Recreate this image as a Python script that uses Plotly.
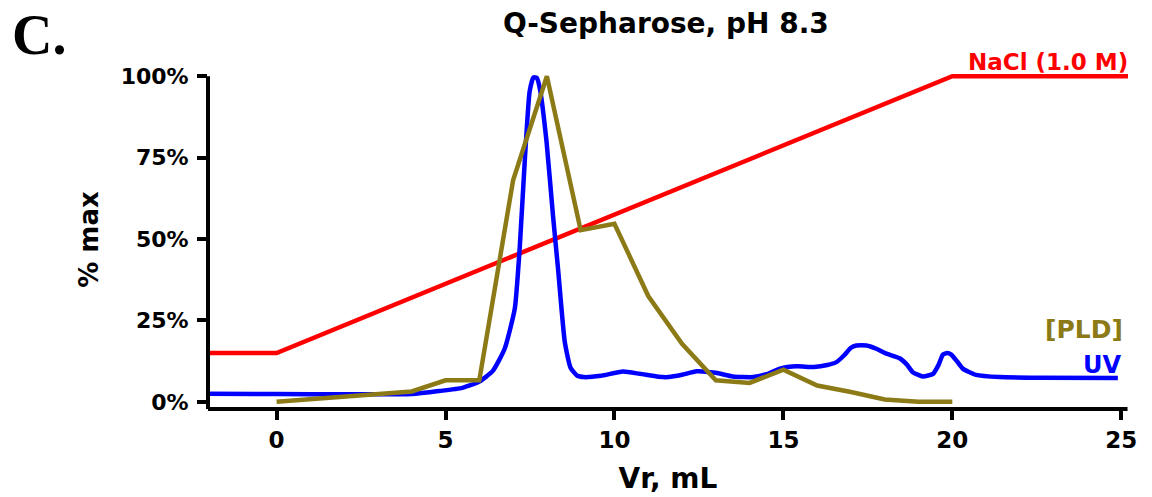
import plotly.graph_objects as go

# NaCl gradient (% of 1.0 M)
nacl_x = [-2.03, 0, 20, 25.2]
nacl_y = [15, 15, 100, 100]

# [PLD] activity (% max)
pld_x = [0, 4, 5, 6, 7, 8, 9, 10, 11, 12, 13, 14, 15, 16, 17, 18, 19, 20]
pld_y = [0, 3.2, 6.6, 6.6, 68, 100, 52.7, 54.7, 32.5, 17.8, 6.6, 5.8, 9.9, 5.0, 3.0, 0.7, 0, 0]

# UV absorbance (% max)
uv_x = [-2.03, 0, 2, 4, 4.8, 5.5, 6.0, 6.4, 6.75, 7.05, 7.2, 7.35, 7.49, 7.6, 7.7, 7.79,
        7.99, 8.18, 8.33, 8.53, 8.7, 8.9, 9.1, 9.6, 10.25, 10.75, 11.3, 11.6, 12.0,
        12.43, 13.0, 13.5, 14.1, 14.5, 14.9, 15.4, 15.9, 16.3, 16.57, 16.8, 17.0,
        17.16, 17.46, 17.75, 18.05, 18.44, 18.65, 18.83, 19.13, 19.43, 19.6, 19.72,
        19.85, 19.97, 20.15, 20.31, 20.7, 21.4, 22.58, 24.9]
uv_y = [2.5, 2.4, 2.3, 2.4, 3.3, 4.3, 6.2, 9.5, 16.3, 28.6, 48, 74.8, 95.3, 99.6, 99.5, 96.3,
        79.9, 57.3, 40.9, 18.4, 10.5, 8.0, 7.6, 8.0, 9.3, 8.6, 7.7, 7.6, 8.3,
        9.4, 8.9, 7.8, 7.6, 8.5, 10.2, 10.9, 10.7, 11.3, 12.2, 14.3, 16.6,
        17.3, 17.3, 16.3, 14.8, 13.4, 11.5, 9.1, 7.8, 8.6, 11.5, 14.5,
        15.0, 14.5, 12.3, 10.2, 8.3, 7.6, 7.4, 7.3]

x_ticks = [0, 5, 10, 15, 20, 25]
y_ticks = [0, 25, 50, 75, 100]
y_tick_text = ["0%", "25%", "50%", "75%", "100%"]

RED = "#FF0000"
BLUE = "#0000FF"
OLIVE = "#8B7A16"
FONT = "DejaVu Sans, Verdana, sans-serif"

fig = go.Figure()
fig.add_trace(go.Scatter(x=nacl_x, y=nacl_y, mode="lines", line=dict(color=RED, width=4.5), name="NaCl"))
fig.add_trace(go.Scatter(x=uv_x, y=uv_y, mode="lines", line=dict(color=BLUE, width=4.5, shape="spline", smoothing=0.5), name="UV"))
fig.add_trace(go.Scatter(x=pld_x, y=pld_y, mode="lines", line=dict(color=OLIVE, width=4.5), name="[PLD]"))

fig.update_layout(
    width=1152, height=497,
    margin=dict(l=208, r=24, t=70, b=88),
    paper_bgcolor="white", plot_bgcolor="white",
    showlegend=False,
    font=dict(family=FONT, color="black"),
    title=dict(text="<b>Q-Sepharose, pH 8.3</b>", x=0.578, xanchor="center", y=0.954, yanchor="middle",
               font=dict(size=28, family=FONT, color="black")),
)
fig.update_xaxes(range=[-2.03, 25.2], tickmode="array", tickvals=x_ticks,
                 ticktext=[f"<b>{v}</b>" for v in x_ticks],
                 ticks="outside", ticklen=10, tickwidth=4, tickcolor="black",
                 tickfont=dict(size=23, family=FONT, color="black"),
                 showgrid=False, zeroline=False, showline=False, automargin=False,
                 title=dict(text="<b>Vr, mL</b>", font=dict(size=28, family=FONT), standoff=16))
fig.update_yaxes(range=[-2.2, 101.9], tickmode="array", tickvals=y_ticks,
                 ticktext=[f"<b>{t}</b>" for t in y_tick_text],
                 ticks="outside", ticklen=10, tickwidth=4, tickcolor="black",
                 tickfont=dict(size=22, family=FONT, color="black"), ticklabelstandoff=4,
                 showgrid=False, zeroline=False, showline=False, automargin=False,
                 title=dict(text="<b>% max</b>", font=dict(size=26, family=FONT), standoff=14))

# axis lines
fig.add_shape(type="line", xref="paper", yref="y", x0=0, x1=0, y0=-2.2, y1=100,
              line=dict(color="black", width=4))
fig.add_shape(type="line", xref="paper", yref="paper", x0=0, x1=0.9995, y0=0, y1=0,
              line=dict(color="black", width=4))

fig.add_annotation(text="<b>NaCl (1.0 M)</b>", x=1.002, y=1.0236, xref="paper", yref="paper",
                   xanchor="right", yanchor="middle", showarrow=False,
                   font=dict(size=23, color=RED, family=FONT))
fig.add_annotation(text="<b>[PLD]</b>", x=25.1, y=22.1, xref="x", yref="y",
                   xanchor="right", yanchor="middle", showarrow=False,
                   font=dict(size=25, color=OLIVE, family=FONT))
fig.add_annotation(text="<b>UV</b>", x=25.05, y=11.4, xref="x", yref="y",
                   xanchor="right", yanchor="middle", showarrow=False,
                   font=dict(size=24, color=BLUE, family=FONT))
fig.add_annotation(text="<b>C.</b>", x=-0.1837, y=1.103, xref="paper", yref="paper",
                   xanchor="center", yanchor="middle", showarrow=False,
                   font=dict(size=56, color="black", family="Liberation Serif, Times New Roman, serif"))

fig.write_html("out.html", config={"displayModeBar": False},
               post_script="document.body.style.margin='0';")
